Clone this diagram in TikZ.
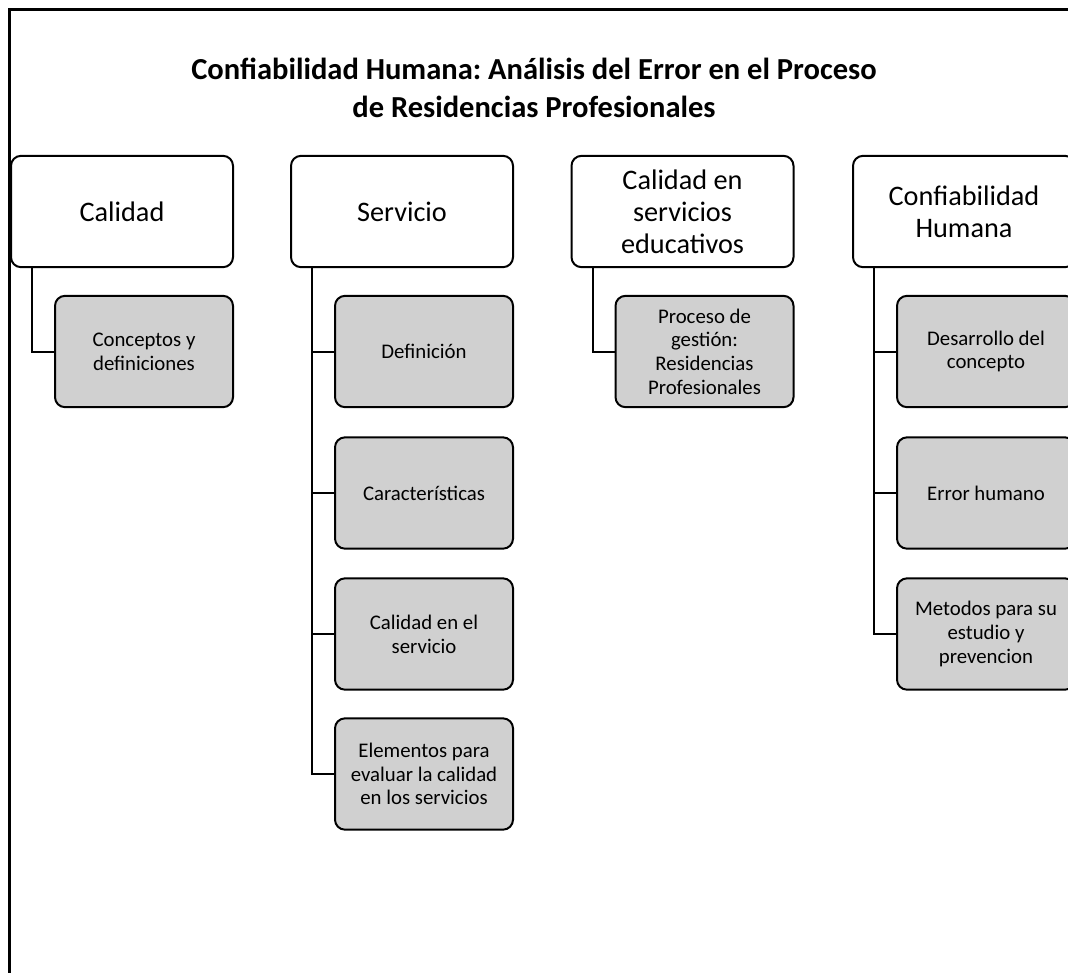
\documentclass[tikz,border=0pt]{standalone}
\usepackage{fontspec}
\setmainfont{Carlito}
\usepackage{xcolor}
\usepackage{tikz}
\usetikzlibrary{positioning,calc}

\definecolor{subgray}{RGB}{208,208,208}
\frenchspacing

\begin{document}
\begin{tikzpicture}[x=0.75pt, y=-0.75pt,
  top/.style={draw, line width=1.5pt, rounded corners=7.5pt, fill=white, align=center, minimum width=166.5pt, minimum height=83.5pt, inner sep=0pt, font=\fontsize{21.2}{24}\selectfont},
  sub/.style={draw, line width=1.5pt, rounded corners=7.5pt, fill=subgray, align=center, minimum width=133.5pt, minimum height=83.5pt, inner sep=0pt, font=\fontsize{15.6}{17.8}\selectfont},
  link/.style={line width=1.5pt}
]
\useasboundingbox (0,0) rectangle (1068,972);
\clip (0,0) rectangle (1068,972);

\draw[line width=2.25pt] (9.5,1000) -- (9.5,9.5) -- (1100,9.5);

\node[font=\fontsize{22.9}{28}\selectfont\bfseries, align=center] (title) at (534,88)
  {Confiabilidad Humana: Análisis del Error en el Proceso\\de Residencias Profesionales};

\node[top] (cal) at (122,211.5) {Calidad};
\node[top] (ser) at (402,211.5) {Servicio};
\node[top] (edu) at (682.5,211.5) {Calidad en\\servicios\\educativos};
\node[top] (hum) at (964,211.5) {Confiabilidad\\Humana};

\node[sub] (cal1) at (144,351.5) {Conceptos y\\definiciones};

\node[sub] (ser1) at (424,351.5) {Definición};
\node[sub] (ser2) at (424,493) {Características};
\node[sub] (ser3) at (424,634) {Calidad en el\\servicio};
\node[sub] (ser4) at (424,774) {Elementos para\\evaluar la calidad\\en los servicios};

\node[sub] (edu1) at (704.5,351.5) {Proceso de\\gestión:\\Residencias\\Profesionales};

\node[sub] (hum1) at (986,351.5) {Desarrollo del\\concepto};
\node[sub] (hum2) at (986,493) {Error humano};
\node[sub] (hum3) at (986,634) {Metodos para su\\estudio y\\prevencion};

\coordinate (calx) at ($(cal.south west)+(22,0)$);
\coordinate (serx) at ($(ser.south west)+(22,0)$);
\coordinate (edux) at ($(edu.south west)+(22,0)$);
\coordinate (humx) at ($(hum.south west)+(22,0)$);

\draw[link] (calx) |- (cal1.west);
\draw[link] (serx) |- (ser4.west);
\foreach \k in {1,2,3} \draw[link] (serx |- ser\k.west) -- (ser\k.west);
\draw[link] (edux) |- (edu1.west);
\draw[link] (humx) |- (hum3.west);
\foreach \k in {1,2} \draw[link] (humx |- hum\k.west) -- (hum\k.west);
\end{tikzpicture}
\end{document}
